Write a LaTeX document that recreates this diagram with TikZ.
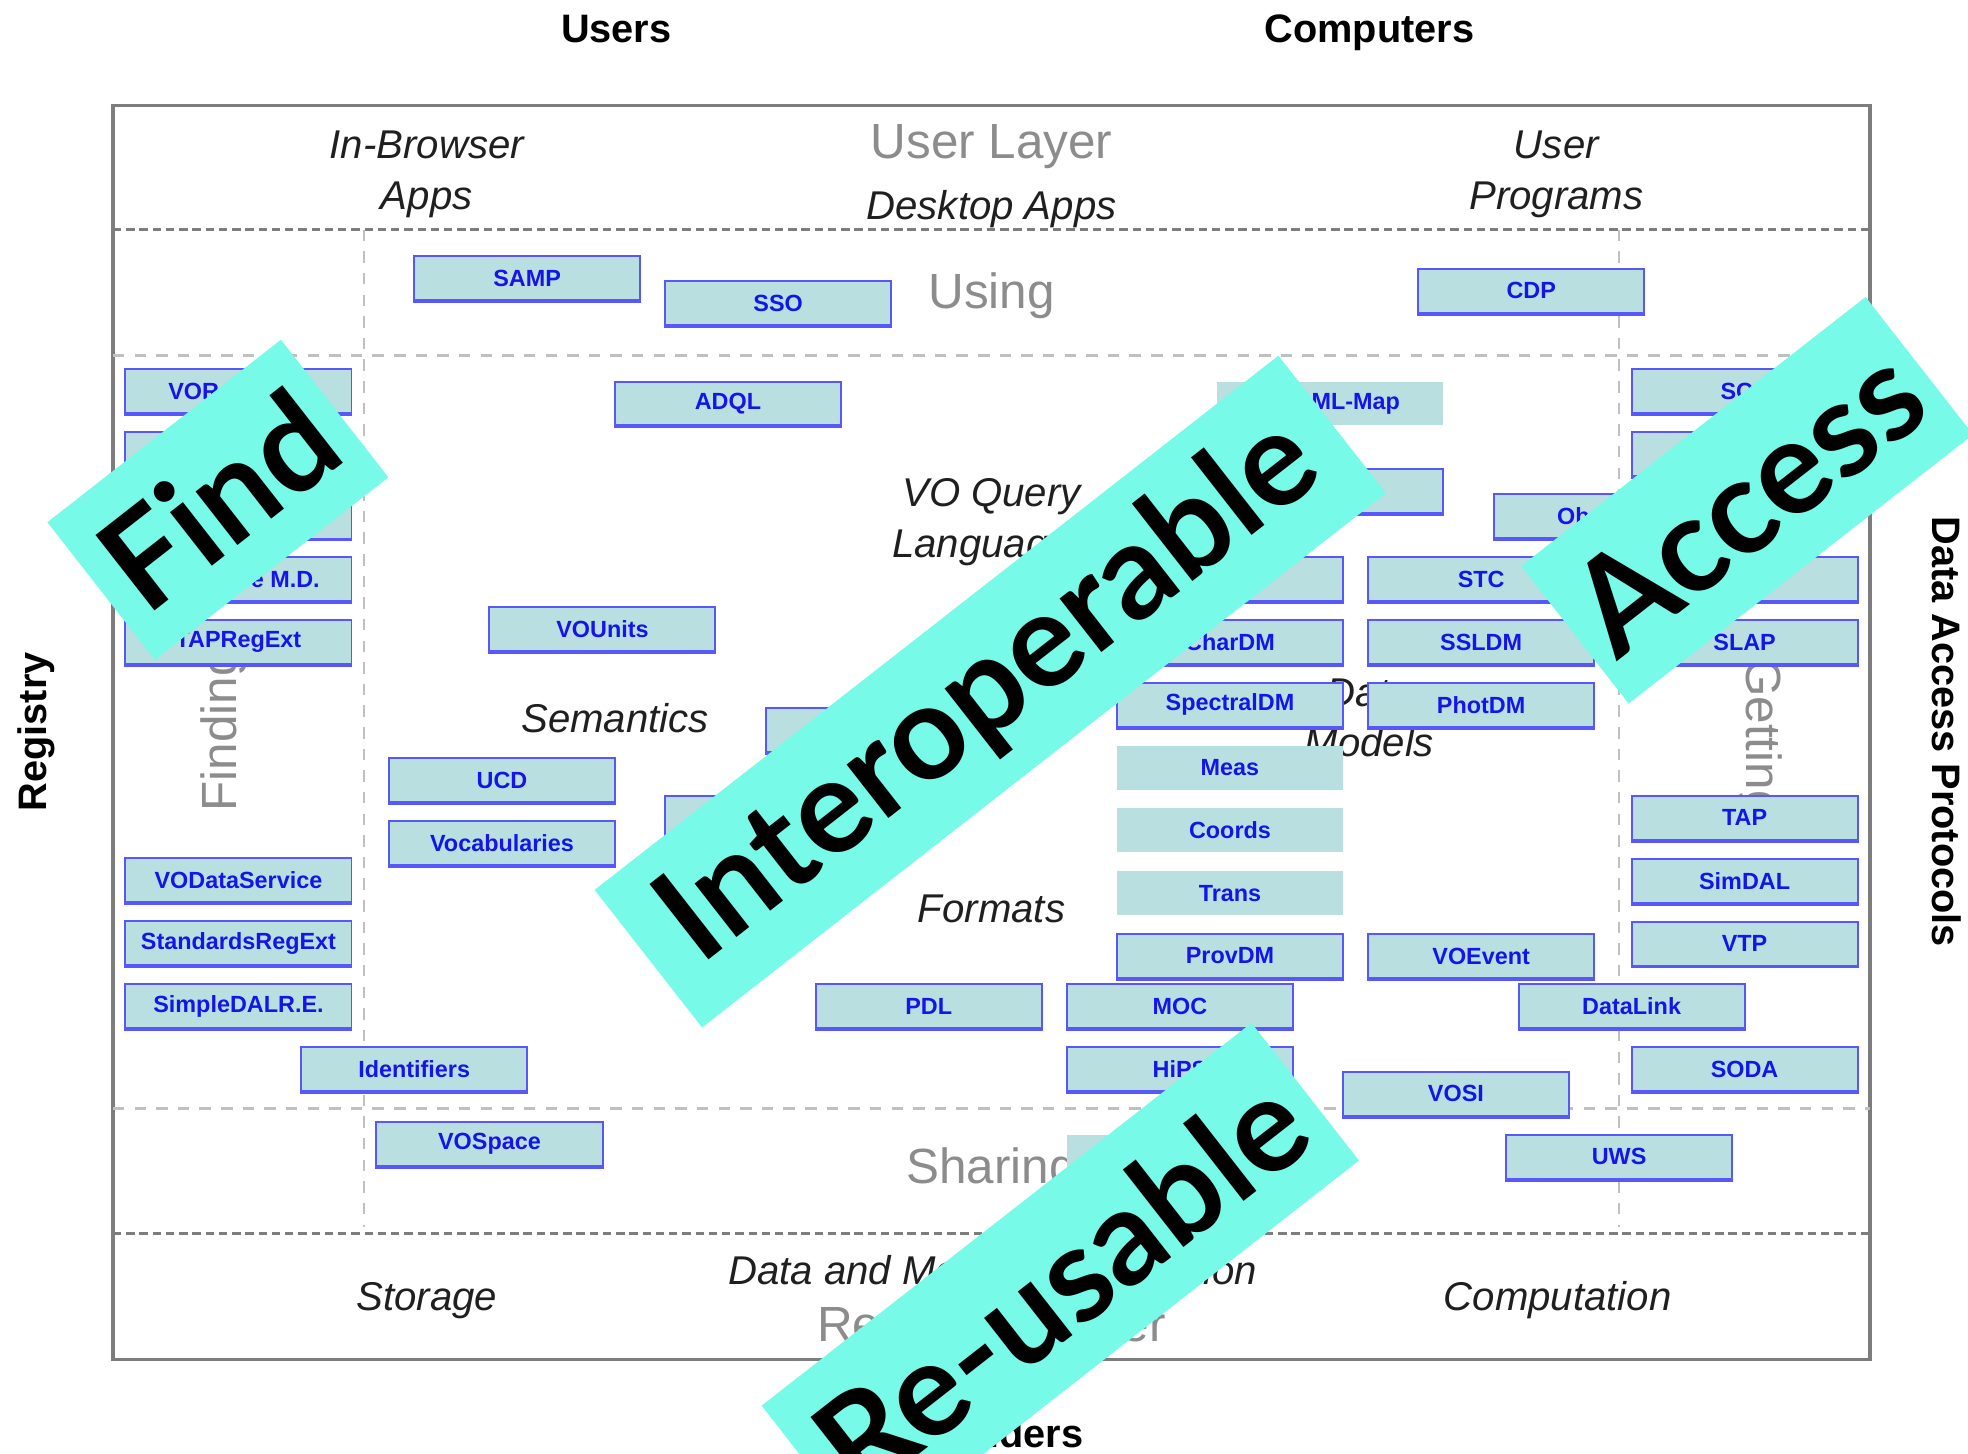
\documentclass[tikz,border=0pt]{standalone}
\usepackage{fontspec}
\setmainfont{Liberation Sans}
\newfontfamily\fairfont{Lato}
\usetikzlibrary{positioning}

\definecolor{boxfill}{RGB}{185,223,224}
\definecolor{boxline}{RGB}{88,88,250}
\definecolor{boxtext}{RGB}{20,20,235}
\definecolor{layergray}{RGB}{140,140,140}
\definecolor{framegray}{RGB}{125,125,125}
\definecolor{gridlight}{RGB}{192,192,192}
\definecolor{fair}{RGB}{119,251,232}

\begin{document}
\begin{tikzpicture}[x=0.01cm,y=-0.01cm,node distance=0.5cm,
	cell/.style={fill=boxfill,minimum width=1.8cm,minimum height=0.35cm,inner sep=0pt,
		text=boxtext,font=\fontsize{5.3}{6}\selectfont\bfseries},
	stdbox/.style={cell,draw=boxline,line width=0.45pt,
		append after command={(\tikzlastnode.south west) edge[boxline,line width=0.9pt] (\tikzlastnode.south east)}},
	flatbox/.style={cell},
	head/.style={font=\fontsize{9}{11}\selectfont\bfseries},
	area/.style={align=center,text=black!88,font=\fontsize{9.1}{11.4}\selectfont\itshape},
	layer/.style={text=layergray,font=\fontsize{11.2}{13}\selectfont},
	fairtag/.style={fill=fair,rotate=38,inner sep=0pt,minimum height=1.39cm,
		font=\fairfont\bfseries\fontsize{30}{30}\selectfont},
	darkdash/.style={framegray,line width=0.75pt,dash pattern=on 1.9pt off 1.1pt},
	lightdash/.style={gridlight,line width=0.6pt,dash pattern=on 2.6pt off 2.3pt}]
	\useasboundingbox (0,0) rectangle (1568,1158);

	% frame and layers
	\draw[framegray,line width=0.8pt] (90,84) rectangle (1490,1083);
	\draw[darkdash] (90,183) -- (1490,183);
	\draw[darkdash] (90,983) -- (1490,983);
	\draw[lightdash] (90,283) -- (1490,283);
	\draw[lightdash] (90,883) -- (1490,883);
	\draw[lightdash] (290,183) -- (290,978);
	\draw[lightdash] (1290,183) -- (1290,978);

	% outside labels
	\node (users) [head,anchor=base] at (491,33.5) {Users};
	\node (computers) [head,anchor=base] at (1091,33.5) {Computers};
	\node (providers) [head,anchor=base] at (790,1153.5) {Providers};
	\node (registry) [head,rotate=90] at (29,583) {Registry};
	\node (dap) [head,rotate=-90] at (1551,583) {Data Access Protocols};

	% layer names
	\node (userlayer) [layer] at (790,117) {User Layer};
	\node (using) [layer] at (790,236) {Using};
	\node (sharing) [layer] at (790,933) {Sharing};
	\node (reslayer) [layer] at (790,1059) {Resource Layer};
	\node (finding) [layer,rotate=90] at (178,582) {Finding};
	\node (getting) [layer,rotate=-90] at (1402,588) {Getting};

	\node (browser) [area] at (340,139) {In-Browser\\Apps};
	\node (desktop) [area] at (790,167) {Desktop Apps};
	\node (programs) [area] at (1240,139) {User\\Programs};
	\node (query) [area] at (790,416) {VO Query\\Languages};
	\node (semantics) [area] at (490,572) {Semantics};
	\node (models) [area] at (1091,572) {Data\\Models};
	\node (formats) [area] at (790,724) {Formats};
	\node (storage) [area] at (340,1036) {Storage};
	\node (collection) [area] at (791,1012) {Data and Metadata Collection};
	\node (computation) [area] at (1241,1036) {Computation};

	% using
	\node (samp) [stdbox] at (420,221.5) {SAMP};
	\node (sso) [stdbox] at (620,241.5) {SSO};
	\node (cdp) [stdbox] at (1220,231.5) {CDP};

	% registry column
	\node (vor) [stdbox] at (190,311.5) {VOResource};
	\node (reg2) [stdbox,below of=vor] {};
	\node (reg3) [stdbox,below of=reg2] {};
	\node (resmd) [stdbox,below of=reg3] {Resource M.D.};
	\node (tapreg) [stdbox,below of=resmd] {TAPRegExt};
	\node (vods) [stdbox] at (190,701.5) {VODataService};
	\node (stdreg) [stdbox,below of=vods] {StandardsRegExt};
	\node (sdalreg) [stdbox,below of=stdreg] {SimpleDALR.E.};
	\node (ids) [stdbox] at (330,851.5) {Identifiers};
	\node (vospace) [stdbox] at (390,911.5) {VOSpace};

	% query, semantics, formats
	\node (adql) [stdbox] at (580,321.5) {ADQL};
	\node (vounits) [stdbox] at (480,501.5) {VOUnits};
	\node (ucd) [stdbox] at (400,621.5) {UCD};
	\node (vocab) [stdbox,below of=ucd] {Vocabularies};
	\node (sem2) [stdbox] at (700,581.5) {};
	\node (sem3) [stdbox] at (620,651.5) {};
	\node (pdl) [stdbox] at (740,801.5) {PDL};
	\node (moc) [stdbox,right of=pdl,node distance=2cm] {MOC};
	\node (hips) [stdbox,below of=moc] {HiPS};
	\node (share2) [flatbox] at (940,921.5) {};

	% data models
	\node (dmlmap) [flatbox] at (1060,321.5) {VODML-Map};
	\node (dml) [stdbox,below of=dmlmap,node distance=0.7cm] {};
	\node (obscore) [stdbox] at (1280,411.5) {ObsCore};
	\node (dm1) [stdbox] at (980,461.5) {};
	\node (chardm) [stdbox,below of=dm1] {CharDM};
	\node (spec) [stdbox,below of=chardm] {SpectralDM};
	\node (meas) [flatbox,below of=spec] {Meas};
	\node (coords) [flatbox,below of=meas] {Coords};
	\node (trans) [flatbox,below of=coords] {Trans};
	\node (prov) [stdbox,below of=trans] {ProvDM};
	\node (stc) [stdbox,right of=dm1,node distance=2cm] {STC};
	\node (ssldm) [stdbox,below of=stc] {SSLDM};
	\node (phot) [stdbox,below of=ssldm] {PhotDM};
	\node (voevent) [stdbox,right of=prov,node distance=2cm] {VOEvent};

	% sharing and access
	\node (vosi) [stdbox] at (1160,871.5) {VOSI};
	\node (uws) [stdbox] at (1290,921.5) {UWS};
	\node (datalink) [stdbox] at (1300,801.5) {DataLink};
	\node (scs) [stdbox] at (1390,311.5) {SCS};
	\node (dal2) [stdbox,below of=scs] {};
	\node (dal3) [stdbox,below of=dal2,node distance=1cm] {};
	\node (slap) [stdbox,below of=dal3] {SLAP};
	\node (tap) [stdbox,below of=slap,node distance=1.4cm] {TAP};
	\node (simdal) [stdbox,below of=tap] {SimDAL};
	\node (vtp) [stdbox,below of=simdal] {VTP};
	\node (soda) [stdbox,below of=vtp,node distance=1cm] {SODA};

	% FAIR tags
	\node (find) [fairtag,minimum width=2.36cm] at (173.6,398.2) {Find};
	\node (access) [fairtag,minimum width=3.48cm] at (1392,398.6) {Access};
	\node (interop) [fairtag,minimum width=6.91cm] at (789,551) {Interoperable};
	\node (reuse) [fairtag,minimum width=4.95cm] at (844.8,1022.3) {Re-usable};
\end{tikzpicture}
\end{document}
